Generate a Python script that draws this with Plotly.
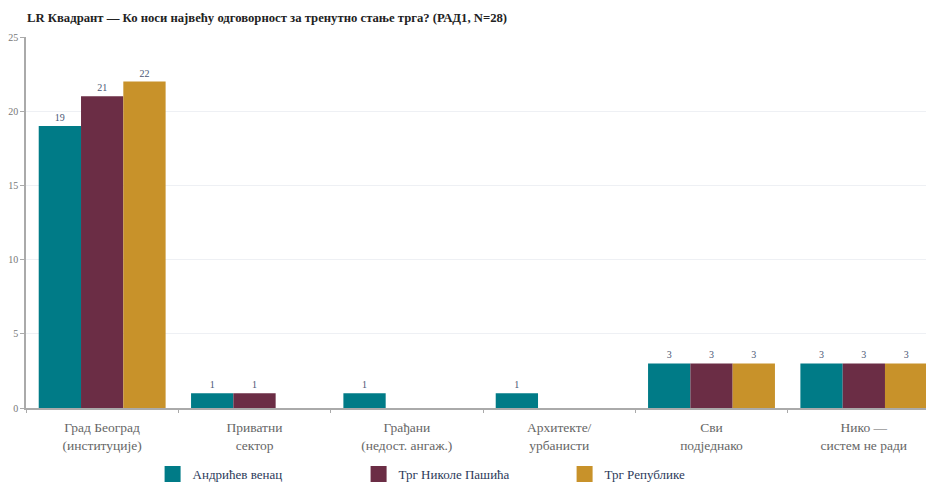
import plotly.graph_objects as go

categories = ["Град Београд<br>(институције)", "Приватни<br>сектор", "Грађани<br>(недост. ангаж.)",
              "Архитекте/<br>урбанисти", "Сви<br>подједнако", "Нико —<br>систем не ради"]
series_names = ["Андрићев венац", "Трг Николе Пашића", "Трг Републике"]
andricev = [19, 1, 1, 1, 3, 3]
pasica = [21, 1, 0, 0, 3, 3]
republike = [22, 0, 0, 0, 3, 3]
colors = ["#007B87", "#6B2D45", "#C8922A"]
y_ticks = [0, 5, 10, 15, 20, 25]

SERIF = "'Liberation Serif', 'Times New Roman', Times, serif"

fig = go.Figure()
for name, vals, col in zip(series_names, [andricev, pasica, republike], colors):
    fig.add_trace(go.Bar(
        x=categories, y=vals, name=name, marker=dict(color=col, line=dict(width=0)),
        text=[str(v) if v else "" for v in vals], textposition="outside",
        textfont=dict(size=10, color="#4A5675", family=SERIF),
        cliponaxis=False, showlegend=False,
    ))
for name, col in zip(series_names, colors):
    fig.add_trace(go.Scatter(
        x=[None], y=[None], mode="markers", name=name,
        marker=dict(symbol="square", size=18, color=col),
    ))

fig.update_layout(
    width=942, height=474,
    margin=dict(l=18, r=10, t=29, b=74, autoexpand=False),
    paper_bgcolor="white", plot_bgcolor="white",
    font=dict(family=SERIF, color="#555"),
    title=dict(text="<b>LR Квадрант — Ко носи највећу одговорност за тренутно стање трга? (РАД1, N=28)</b>",
               x=0.0202, xanchor="left", y=0.98, yanchor="middle",
               font=dict(size=12.7, color="#222", family=SERIF)),
    barmode="group", bargap=0.167, bargroupgap=0,
    legend=dict(orientation="h", xref="container", yref="container", x=0.1535, xanchor="left",
                y=0.017, yanchor="middle",
                font=dict(size=13, color="#2C3A5A", family=SERIF), entrywidth=161, entrywidthmode="pixels",
                itemsizing="trace"),
)
fig.update_xaxes(showline=True, linecolor="#aaa", linewidth=1.5, ticks="outside",
                 tickson="boundaries", ticklen=3, tickcolor="#aaa", automargin=False,
                 ticklabelstandoff=6,
                 tickfont=dict(size=13.5, color="#666", family=SERIF), showgrid=False)
fig.update_yaxes(range=[0, 25], tickvals=y_ticks, showline=True, linecolor="#aaa", linewidth=1.5,
                 ticks="outside", ticklen=4, tickcolor="#aaa", gridcolor="#eef0f4", automargin=False,
                 tickfont=dict(size=10, color="#777", family=SERIF), zeroline=False)

fig.write_html("out.html")
